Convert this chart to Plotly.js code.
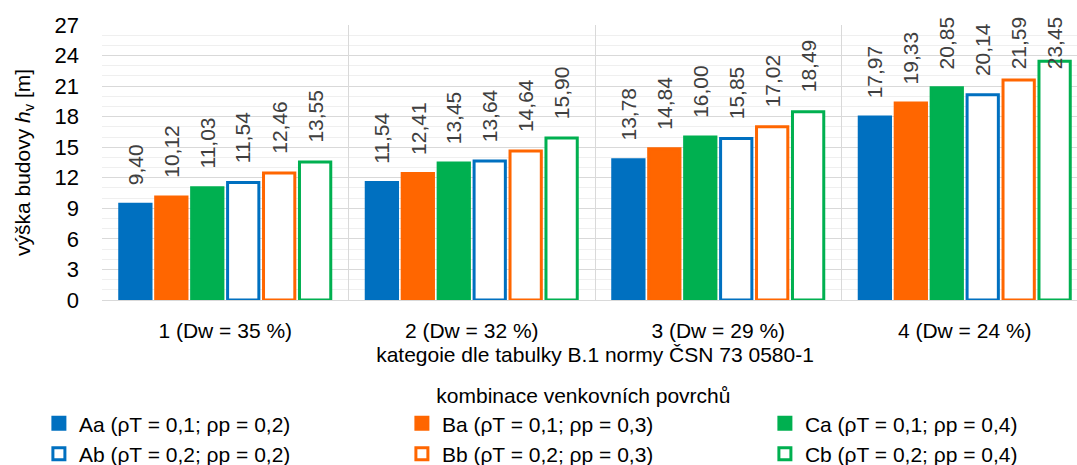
<!DOCTYPE html>
<html>
<head>
<meta charset="utf-8">
<script src="https://cdn.plot.ly/plotly-3.0.1.min.js"></script>
<style>
html,body{margin:0;padding:0;overflow:hidden;background:#fff;}
#chart{width:1200px;height:490px;}
</style>
</head>
<body>
<div id="chart"></div>
<script>
const categories = ["1 (Dw = 35 %)", "2 (Dw = 32 %)", "3 (Dw = 29 %)", "4 (Dw = 24 %)"];
const seriesNames = ["Aa (ρT = 0,1; ρp = 0,2)", "Ba (ρT = 0,1; ρp = 0,3)", "Ca (ρT = 0,1; ρp = 0,4)",
                     "Ab (ρT = 0,2; ρp = 0,2)", "Bb (ρT = 0,2; ρp = 0,3)", "Cb (ρT = 0,2; ρp = 0,4)"];
const Aa = [9.40, 11.54, 13.78, 17.97];
const Ba = [10.12, 12.41, 14.84, 19.33];
const Ca = [11.03, 13.45, 16.00, 20.85];
const Ab = [11.54, 13.64, 15.85, 20.14];
const Bb = [12.46, 14.64, 17.02, 21.59];
const Cb = [13.55, 15.90, 18.49, 23.45];
const yTicks = [0, 3, 6, 9, 12, 15, 18, 21, 24, 27];

const seriesValues = [Aa, Ba, Ca, Ab, Bb, Cb];
const colors = ["#0070C0", "#FF6600", "#00B050", "#0070C0", "#FF6600", "#00B050"];
const hollow = [false, false, false, true, true, true];

const FONT = "'Liberation Sans', Arial, sans-serif";
const FS = 21;
const BARGAP = 0.125, GROUPGAP = 0.13;

const traces = seriesValues.map((vals, i) => ({
  type: 'bar',
  name: seriesNames[i],
  x: categories,
  y: vals,
  marker: {
    color: hollow[i] ? '#ffffff' : colors[i],
    line: {color: colors[i], width: 3}
  },
  hoverinfo: 'x+y+name'
}));

const fmt = v => v.toFixed(2).replace('.', ',');
const n = seriesValues.length;
const slot = (1 - BARGAP) / n;
const annotations = [];
seriesValues.forEach((vals, i) => {
  vals.forEach((v, ci) => {
    annotations.push({
      xref: 'x', yref: 'y',
      x: ci - (1 - BARGAP) / 2 + slot * (i + 0.5),
      y: Math.min(v, 20.8),
      text: fmt(v),
      textangle: -90,
      showarrow: false,
      xanchor: 'center', yanchor: 'bottom',
      yshift: 17,
      font: {family: FONT, size: FS, color: '#404040'}
    });
  });
});

const layout = {
  width: 1200, height: 490,
  margin: {l: 102, r: 112, t: 25, b: 190},
  paper_bgcolor: '#ffffff', plot_bgcolor: '#ffffff',
  font: {family: FONT, size: FS, color: '#000000'},
  barmode: 'group',
  bargap: BARGAP, bargroupgap: GROUPGAP,
  showlegend: true,
  xaxis: {
    type: 'category',
    tickson: 'boundaries',
    showgrid: true, gridcolor: '#d9d9d9', gridwidth: 1,
    showline: true, linecolor: '#d9d9d9', linewidth: 1,
    ticks: '',
    ticklabelstandoff: 12,
    tickfont: {family: FONT, size: FS, color: '#000'},
    title: {text: 'kategoie dle tabulky B.1 normy ČSN 73 0580-1', font: {family: FONT, size: FS, color: '#000'}, standoff: 6},
    automargin: false
  },
  yaxis: {
    range: [0, 27],
    tickvals: yTicks,
    ticktext: yTicks.map(String),
    showgrid: true, gridcolor: '#d9d9d9', gridwidth: 1,
    minor: {dtick: 1, tick0: 0, showgrid: true, gridcolor: '#efefef', gridwidth: 1, ticks: ''},
    zeroline: false,
    showline: false,
    ticks: '',
    ticklabelstandoff: 22,
    tickfont: {family: FONT, size: 22, color: '#000'},
    title: {text: 'výška budovy <i>h</i><sub>v</sub> [m]', font: {family: FONT, size: FS, color: '#000'}, standoff: 18},
    automargin: false
  },
  legend: {
    orientation: 'h',
    x: -0.064, xanchor: 'left',
    y: -0.276, yanchor: 'top',
    entrywidth: 318,
    traceorder: 'normal',
    font: {family: FONT, size: FS, color: '#000'},
    title: {text: 'kombinace venkovních povrchů', side: 'top center', font: {family: FONT, size: FS, color: '#000'}},
    itemwidth: 30,
    bgcolor: 'rgba(0,0,0,0)'
  },
  annotations: annotations
};

Plotly.newPlot('chart', traces, layout, {displayModeBar: false, responsive: false, staticPlot: true});
</script>
</body>
</html>
